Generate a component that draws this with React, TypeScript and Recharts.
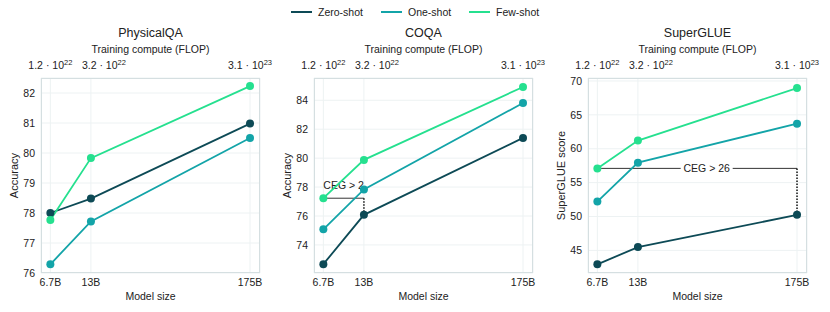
import React from "react";
import {
  LineChart,
  Line,
  XAxis,
  YAxis,
  CartesianGrid,
  ReferenceLine,
} from "recharts";

// x positions: model size in billions of params (log axis)
const modelSizes = [6.7, 13, 175];
const modelLabels = ["6.7B", "13B", "175B"];
const computeMantissa = ["1.2", "3.2", "3.1"];
const computeExponent = ["22", "22", "23"];
// the compute label for 13B sits a bit right of the gridline in the original
const computeLabelShift = [0, 13, 0];

const physicalZero = [78.0, 78.48, 80.98];
const physicalOne = [76.29, 77.72, 80.5];
const physicalFew = [77.77, 79.83, 82.23];

const coqaZero = [72.67, 76.08, 81.4];
const coqaOne = [75.08, 77.84, 83.81];
const coqaFew = [77.23, 79.88, 84.92];

const glueZero = [42.94, 45.48, 50.24];
const glueOne = [52.2, 57.95, 63.7];
const glueFew = [57.1, 61.2, 68.95];

const ZERO = "#0d4a56";
const ONE = "#13a4a8";
const FEW = "#25e08f";
const TEXT = "#222";
const FONT = "'Liberation Sans', Arial, sans-serif";

const legendItems = [
  { name: "Zero-shot", color: ZERO, left: 291 },
  { name: "One-shot", color: ONE, left: 381 },
  { name: "Few-shot", color: FEW, left: 469 },
];

const panels = [
  {
    title: "PhysicalQA",
    yLabel: "Accuracy",
    left: 0,
    domain: [76, 82.5],
    ticks: [76, 77, 78, 79, 80, 81, 82],
    zero: physicalZero,
    one: physicalOne,
    few: physicalFew,
    ceg: null as null | { text: string; toIdx: number; wide: boolean },
  },
  {
    title: "COQA",
    yLabel: "Accuracy",
    left: 273,
    domain: [72.06, 85.54],
    ticks: [74, 76, 78, 80, 82, 84],
    zero: coqaZero,
    one: coqaOne,
    few: coqaFew,
    ceg: { text: "CEG > 2", toIdx: 1, wide: false },
  },
  {
    title: "SuperGLUE",
    yLabel: "SuperGLUE score",
    left: 547,
    domain: [41.66, 70.44],
    ticks: [45, 50, 55, 60, 65, 70],
    zero: glueZero,
    one: glueOne,
    few: glueFew,
    ceg: { text: "CEG > 26", toIdx: 2, wide: true },
  },
];

const X_DOMAIN = [5.75, 206];
const PLOT_L = 41;
const PLOT_W = 219;

const TopTick = (props: any) => {
  const { x, payload } = props;
  const i = modelSizes.indexOf(payload.value);
  return (
    <text
      x={x + computeLabelShift[i]}
      y={69}
      textAnchor="middle"
      fontSize={10.5}
      fill={TEXT}
      fontFamily={FONT}
    >
      <tspan>{computeMantissa[i]} · 10</tspan>
      <tspan dy={-4} fontSize={7.5}>
        {computeExponent[i]}
      </tspan>
    </text>
  );
};

const cegShape = (text: string, wide: boolean) => (p: any) => {
  const { x1, y1, x2 } = p;
  if (!wide) {
    return (
      <g>
        <line x1={x1} y1={y1} x2={x2} y2={y1} stroke="#333" strokeWidth={1} />
        <text x={x1} y={y1 - 9} fontSize={10.5} fill={TEXT} fontFamily={FONT}>
          {text}
        </text>
      </g>
    );
  }
  const cx = (x1 + x2) / 2 + 9.5;
  return (
    <g>
      <line x1={x1} y1={y1} x2={x2} y2={y1} stroke="#333" strokeWidth={1} />
      <rect x={cx - 26} y={y1 - 6} width={52} height={12} fill="#fff" />
      <text x={cx} y={y1 + 3.5} textAnchor="middle" fontSize={10.5} fill={TEXT} fontFamily={FONT}>
        {text}
      </text>
    </g>
  );
};

function Panel({ panel }: { panel: (typeof panels)[number] }) {
  const rows = modelSizes.map((s, i) => ({
    size: s,
    zero: panel.zero[i],
    one: panel.one[i],
    few: panel.few[i],
  }));
  const cx = PLOT_L + PLOT_W / 2;
  const series = [
    { key: "zero", color: ZERO },
    { key: "one", color: ONE },
    { key: "few", color: FEW },
  ];
  return (
    <div style={{ position: "absolute", left: panel.left, top: 0 }}>
      <LineChart
        width={283}
        height={312}
        data={rows}
        margin={{ top: 0, right: 23, bottom: 0, left: 0 }}
      >
        <CartesianGrid stroke="#edf2f3" xAxisId="b" yAxisId="l" />
        <XAxis
          xAxisId="b"
          dataKey="size"
          type="number"
          scale="log"
          domain={X_DOMAIN}
          ticks={modelSizes}
          allowDataOverflow
          tickFormatter={(v: number) => modelLabels[modelSizes.indexOf(v)]}
          height={39}
          tickLine={false}
          axisLine={false}
          tickSize={4}
          tickMargin={2}
          tick={{ fill: TEXT, fontSize: 10.5, fontFamily: FONT }}
          label={{
            content: () => (
              <text x={cx} y={300} textAnchor="middle" fontSize={10.5} fill={TEXT} fontFamily={FONT}>
                Model size
              </text>
            ),
          }}
        />
        <XAxis
          xAxisId="t"
          orientation="top"
          dataKey="size"
          type="number"
          scale="log"
          domain={X_DOMAIN}
          ticks={modelSizes}
          allowDataOverflow
          height={78}
          tickLine={false}
          axisLine={false}
          tick={<TopTick />}
          label={{
            content: () => (
              <g>
                <text x={cx} y={37} textAnchor="middle" fontSize={12.5} fill={TEXT} fontFamily={FONT}>
                  {panel.title}
                </text>
                <text x={cx} y={53} textAnchor="middle" fontSize={10.5} fill={TEXT} fontFamily={FONT}>
                  Training compute (FLOP)
                </text>
              </g>
            ),
          }}
        />
        <YAxis
          yAxisId="l"
          width={41}
          domain={panel.domain}
          ticks={panel.ticks}
          allowDataOverflow
          tickLine={false}
          axisLine={false}
          tickSize={4}
          tickMargin={2}
          tick={{ fill: TEXT, fontSize: 10.5, fontFamily: FONT }}
          label={{
            content: () => (
              <text
                x={18}
                y={175.5}
                transform={`rotate(-90 18 175.5)`}
                textAnchor="middle"
                fontSize={11}
                fill={TEXT}
                fontFamily={FONT}
              >
                {panel.yLabel}
              </text>
            ),
          }}
        />
        {panel.ceg && (
          <ReferenceLine
            xAxisId="b"
            yAxisId="l"
            segment={[
              { x: modelSizes[0], y: panel.few[0] },
              { x: modelSizes[panel.ceg.toIdx], y: panel.few[0] },
            ]}
            shape={cegShape(panel.ceg.text, panel.ceg.wide)}
          />
        )}
        {panel.ceg && (
          <ReferenceLine
            xAxisId="b"
            yAxisId="l"
            segment={[
              { x: modelSizes[panel.ceg.toIdx], y: panel.few[0] },
              { x: modelSizes[panel.ceg.toIdx], y: panel.zero[panel.ceg.toIdx] },
            ]}
            stroke="#111"
            strokeWidth={1.5}
            strokeDasharray="1.5 1.5"
          />
        )}
        {series.map((s) => (
          <Line
            key={s.key}
            xAxisId="b"
            yAxisId="l"
            dataKey={s.key}
            stroke={s.color}
            strokeWidth={1.8}
            dot={{ r: 4, fill: s.color, stroke: s.color, strokeWidth: 0 }}
            activeDot={false}
            isAnimationActive={false}
          />
        ))}
      </LineChart>
      <div
        style={{
          position: "absolute",
          left: PLOT_L,
          top: 78,
          width: PLOT_W,
          height: 195,
          border: "1px solid #d5dfe1",
          boxSizing: "border-box",
          pointerEvents: "none",
        }}
      />
    </div>
  );
}

export default function App() {
  return (
    <div
      style={{
        position: "absolute",
        left: 0,
        top: 0,
        width: 830,
        height: 312,
        background: "#fff",
        fontFamily: FONT,
        color: TEXT,
      }}
    >
      {legendItems.map((it) => (
        <div key={it.name}>
          <div
            style={{
              position: "absolute",
              left: it.left,
              top: 11,
              width: 21,
              height: 2,
              background: it.color,
            }}
          />
          <div
            style={{
              position: "absolute",
              left: it.left + 27,
              top: 5,
              fontSize: 10.5,
              lineHeight: "14px",
            }}
          >
            {it.name}
          </div>
        </div>
      ))}
      {panels.map((p) => (
        <Panel key={p.title} panel={p} />
      ))}
    </div>
  );
}
